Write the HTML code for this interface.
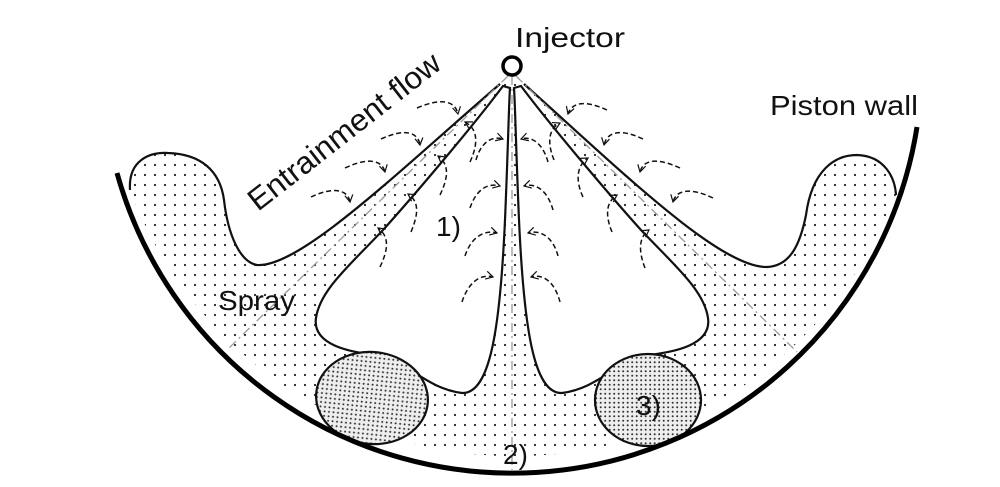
<!DOCTYPE html>
<html><head><meta charset="utf-8"><style>
html,body{margin:0;padding:0;background:#fff;}
svg{display:block;}
text{font-family:"Liberation Sans","DejaVu Sans",sans-serif;fill:#111;}
</style></head><body>
<svg width="1000" height="487" viewBox="0 0 1000 487" xmlns="http://www.w3.org/2000/svg">
<defs>
<pattern id="dots" width="10" height="10" patternUnits="userSpaceOnUse">
<rect width="10" height="10" fill="#fff"/><circle cx="5" cy="5" r="1.1" fill="#222"/>
</pattern>
<pattern id="dense" width="4.5" height="4.5" patternUnits="userSpaceOnUse">
<rect width="4.5" height="4.5" fill="#eee"/><circle cx="2.2" cy="2.2" r="1" fill="#333"/>
</pattern>
<marker id="ah" markerWidth="10" markerHeight="10" refX="8" refY="5" orient="auto" markerUnits="userSpaceOnUse">
<path d="M1,1 L8,5 L1,9" fill="none" stroke="#111" stroke-width="1.2"/>
</marker>
</defs>

<path d="M130,190 C128,160 150,152 168,153 C200,154 220,170 224,200 C228,235 240,262 257,265 C300,268 400,170 500,84
L512,72 L524,84
C620,170 720,268 767,267 C790,266 800,245 806,215 C812,170 835,155 857,155 C885,156 895,178 896,195
A410,410 0 0 1 130,190 Z" fill="url(#dots)"/>

<path d="M503,86 C470,130 410,200 383,230 C350,265 320,290 316,318 C312,345 350,352 375,355 C410,362 425,388 462,393 C490,394 500,330 505,220 C508,150 509,100 510,88 Z" fill="#fff" stroke="#111" stroke-width="2.2"/>
<path d="M521,86 C554,130 614,200 641,230 C674,265 704,290 708,318 C712,345 674,352 649,355 C614,362 599,388 562,393 C534,394 524,330 519,220 C516,150 515,100 514,88 Z" fill="#fff" stroke="#111" stroke-width="2.2"/>

<path d="M130,190 C128,160 150,152 168,153 C200,154 220,170 224,200 C228,235 240,262 257,265 C300,268 400,170 500,84" fill="none" stroke="#111" stroke-width="2.2"/>
<path d="M524,84 C620,170 720,268 767,267 C790,266 800,245 806,215 C812,170 835,155 857,155 C885,156 895,178 896,195" fill="none" stroke="#111" stroke-width="2.2"/>

<g stroke="#999" stroke-width="1.3" stroke-dasharray="9,4,2,4" fill="none">
<line x1="508" y1="76" x2="227" y2="350"/>
<line x1="516" y1="76" x2="797" y2="352"/>
<line x1="512" y1="76" x2="512" y2="470"/>
</g>

<ellipse cx="372" cy="398" rx="56" ry="46" fill="url(#dense)" stroke="#111" stroke-width="2.2" transform="rotate(6 372 398)"/>
<ellipse cx="648" cy="400" rx="53" ry="46" fill="url(#dense)" stroke="#111" stroke-width="2.2"/>

<path d="M117,173 A410,410 0 0 0 917,127" fill="none" stroke="#000" stroke-width="5"/>

<circle cx="512" cy="66" r="9" fill="#fff" stroke="#000" stroke-width="3.5"/>

<g fill="none" stroke="#111" stroke-width="1.5" stroke-dasharray="5,3" marker-end="url(#ah)">
<path d="M417,108 C440,98 455,100 458,114"/>
<path d="M381,139 C405,128 418,132 420,145"/>
<path d="M345,168 C368,157 382,160 385,172"/>
<path d="M311,197 C334,186 348,190 350,202"/>
<path d="M470,162 C480,140 476,128 465,122"/>
<path d="M440,195 C448,178 450,165 438,156"/>
<path d="M411,232 C418,215 420,202 408,194"/>
<path d="M380,267 C388,250 390,237 378,228"/>
<path d="M476,160 C480,145 490,135 503,139"/>
<path d="M470,208 C475,193 485,182 500,186"/>
<path d="M465,256 C470,240 482,229 497,233"/>
<path d="M462,302 C467,286 478,273 493,277"/>
<path d="M548,162 C544,147 534,135 521,139"/>
<path d="M553,210 C549,195 539,182 524,186"/>
<path d="M558,256 C554,240 543,229 528,233"/>
<path d="M560,302 C556,286 546,273 531,277"/>
<path d="M554,160 C546,140 550,128 560,123"/>
<path d="M583,197 C575,180 577,165 588,158"/>
<path d="M612,232 C605,215 606,202 617,195"/>
<path d="M645,268 C638,250 639,237 649,230"/>
<path d="M607,110 C585,100 572,102 568,114"/>
<path d="M643,139 C620,128 607,132 604,145"/>
<path d="M680,168 C656,157 643,160 640,172"/>
<path d="M713,198 C690,187 676,190 673,202"/>
</g>

<text x="515" y="47" font-size="28" textLength="110" lengthAdjust="spacingAndGlyphs">Injector</text>
<text x="770" y="115" font-size="28" textLength="148" lengthAdjust="spacingAndGlyphs">Piston wall</text>
<text x="0" y="0" font-size="31" textLength="235" lengthAdjust="spacingAndGlyphs" transform="translate(258,212) rotate(-38)">Entrainment flow</text>
<text x="218" y="310" font-size="28" textLength="77" lengthAdjust="spacingAndGlyphs">Spray</text>
<text x="436" y="236" font-size="28">1)</text>
<text x="503" y="464" font-size="28">2)</text>
<text x="636" y="415" font-size="28">3)</text>
</svg>
</body></html>
